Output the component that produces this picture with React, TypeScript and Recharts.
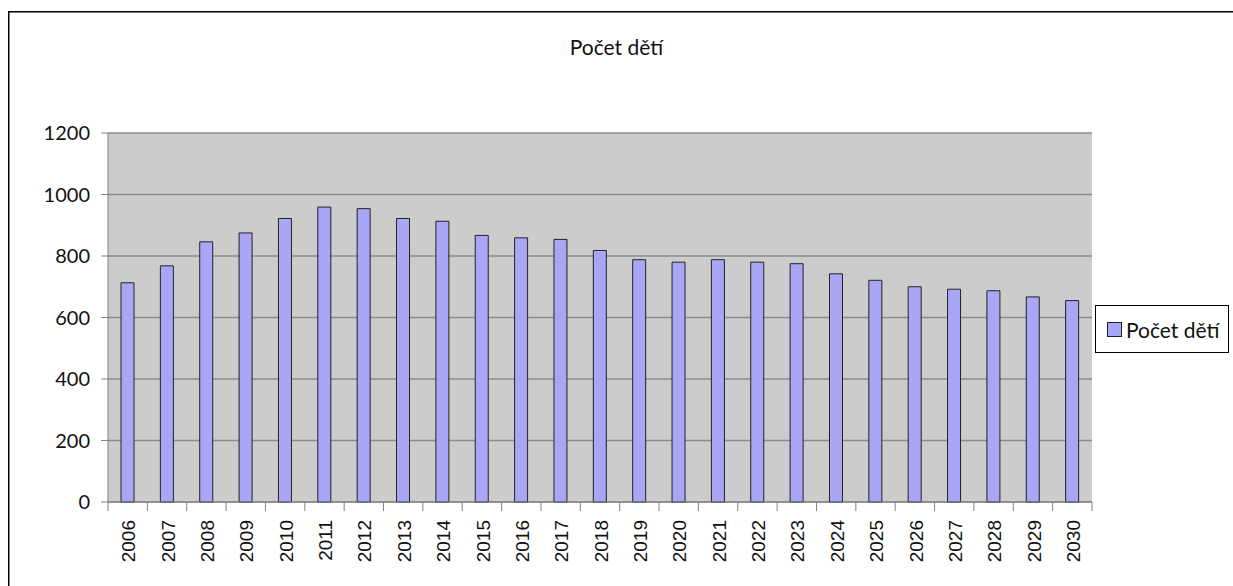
import React from "react";
import { BarChart, Bar, XAxis, YAxis, CartesianGrid } from "recharts";

const years = [
  "2006", "2007", "2008", "2009", "2010", "2011", "2012", "2013", "2014", "2015",
  "2016", "2017", "2018", "2019", "2020", "2021", "2022", "2023", "2024", "2025",
  "2026", "2027", "2028", "2029", "2030",
];
const children = [
  713, 768, 846, 875, 922, 959, 954, 922, 913, 867,
  859, 854, 818, 788, 780, 788, 780, 775, 742, 721,
  700, 692, 687, 667, 655,
];
const yTicks = [0, 200, 400, 600, 800, 1000, 1200];
const seriesName = "Počet dětí";

const data = years.map((year, i) => ({ year, value: children[i] }));

const W = 1233;
const H = 586;
const labelFont = "Lato, 'Open Sans', sans-serif";
const barFill = "#a9a7f5";

function YearTick(props: any) {
  const { x, y, payload, index } = props;
  const half = 984 / years.length / 2;
  return (
    <g>
      <line x1={x - half} x2={x - half} y1={y - 8} y2={y + 1} stroke="#808080" />
      {index === years.length - 1 && (
        <line x1={x + half} x2={x + half} y1={y - 8} y2={y + 1} stroke="#808080" />
      )}
      <text
        x={0}
        y={0}
        transform={`translate(${x + 1},${y + 10}) rotate(-90)`}
        textAnchor="end"
        dy="0.35em"
        fontFamily="'Liberation Sans', Arial, sans-serif"
        fontSize={19}
        fill="#111"
      >
        {payload.value}
      </text>
    </g>
  );
}

export default function App() {
  return (
    <div style={{ position: "fixed", left: 0, top: 0, width: W, height: H, background: "#fff", overflow: "hidden" }}>
      {/* outer chart frame, only its left and top edges fall inside the picture */}
      <svg width={W} height={H} style={{ position: "absolute", left: 0, top: 0 }}>
        <path d={`M8.75 ${H} V11.75 H${W}`} fill="none" stroke="#000" strokeWidth={1.5} />
      </svg>
      <div
        style={{
          position: "absolute",
          left: 0,
          width: W,
          top: 34,
          textAlign: "center",
          fontFamily: labelFont,
          fontSize: 21,
          color: "#111",
        }}
      >
        {seriesName}
      </div>
      <div style={{ position: "absolute", left: 0, top: 0 }}>
        <BarChart
          width={W}
          height={H}
          data={data}
          margin={{ top: 133, right: 141, left: 40, bottom: 0 }}
          barSize={13}
        >
          <CartesianGrid
            vertical={false}
            horizontal
            fill="#cccccc"
            fillOpacity={1}
            stroke="#8c8c8c"
            strokeWidth={1.3}
          />
          <XAxis
            dataKey="year"
            height={84}
            interval={0}
            axisLine={{ stroke: "#808080" }}
            tickLine={false}
            tick={<YearTick />}
          />
          <YAxis
            width={68}
            domain={[0, 1200]}
            ticks={yTicks}
            interval={0}
            axisLine={{ stroke: "#808080" }}
            tickLine={{ stroke: "#808080" }}
            tickSize={7}
            tick={{ fontFamily: labelFont, fontSize: 20, fill: "#111", dx: -9 }}
          />
          <Bar
            dataKey="value"
            name={seriesName}
            fill={barFill}
            stroke="#222"
            strokeWidth={1}
            isAnimationActive={false}
          />
        </BarChart>
      </div>
      <div
        style={{
          position: "absolute",
          left: 1095,
          top: 305,
          width: 134,
          height: 48,
          border: "1px solid #000",
          background: "#fff",
          display: "flex",
          alignItems: "center",
          boxSizing: "border-box",
          paddingLeft: 11,
          fontFamily: labelFont,
          fontSize: 21,
          color: "#111",
        }}
      >
        <span
          style={{
            display: "inline-block",
            width: 13,
            height: 13,
            background: barFill,
            border: "1px solid #222",
            marginRight: 4,
          }}
        />
        {seriesName}
      </div>
    </div>
  );
}
